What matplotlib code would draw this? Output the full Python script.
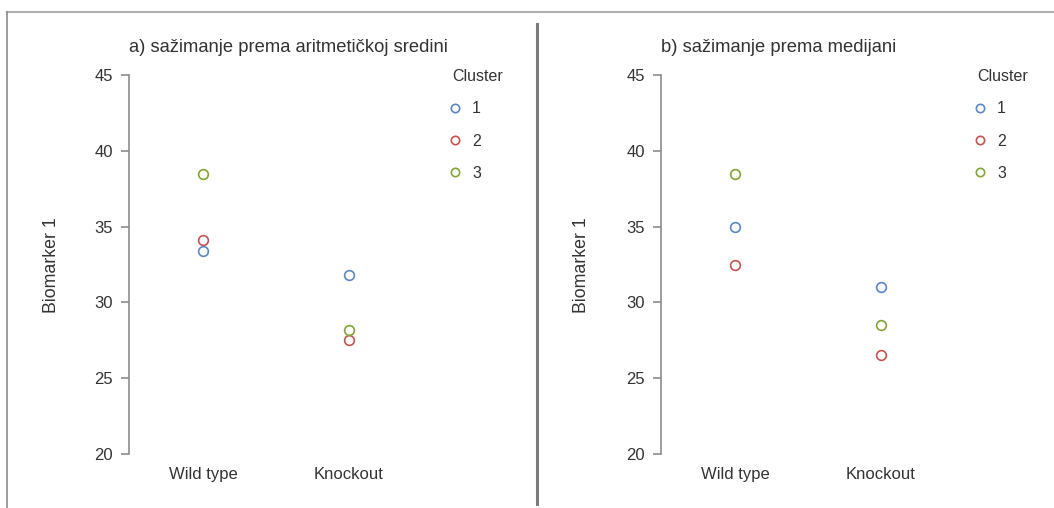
import matplotlib.pyplot as plt
from matplotlib.lines import Line2D

plt.rcParams['font.family'] = ['Liberation Sans', 'DejaVu Sans']

groups = ['Wild type', 'Knockout']
clusters = ['1', '2', '3']
colors = ['#5b87c4', '#c8524f', '#82a536']

# cluster summaries per group (rows: cluster 1..3, cols: Wild type, Knockout)
mean_vals = [[33.4, 31.8],
             [34.1, 27.5],
             [38.5, 28.2]]
median_vals = [[35.0, 31.0],
               [32.5, 26.5],
               [38.5, 28.5]]

titles = ['a) sažimanje prema aritmetičkoj sredini',
          'b) sažimanje prema medijani']
yticks = [20, 25, 30, 35, 40, 45]

W, H = 1054, 508
fig = plt.figure(figsize=(W / 100, H / 100), dpi=100)

txt = '#333333'
spine_col = '#8c8c8c'


def px(x0, y0, w, h):
    return [x0 / W, 1 - (y0 + h) / H, w / W, h / H]


panels = [(129, 203, 452, 51), (661, 735, 977, 581)]
for (ax_x, wt_x, leg_x, lab_x), vals, title in zip(panels, [mean_vals, median_vals], titles):
    ax = fig.add_axes(px(ax_x, 75, 340, 379))
    step = 146
    ax.set_xlim(-(wt_x - ax_x) / step, (ax_x + 340 - wt_x) / step)
    ax.set_ylim(20, 45)
    for vals_c, col, lab in zip(vals, colors, clusters):
        ax.plot(range(len(groups)), vals_c, 'o', ls='none', ms=7, mfc='none',
                mec=col, mew=1.2, label=lab, clip_on=False)
    for s in ['top', 'right', 'bottom']:
        ax.spines[s].set_visible(False)
    ax.spines['left'].set_color(spine_col)
    ax.spines['left'].set_linewidth(1.2)
    ax.set_yticks(yticks)
    ax.set_xticks(range(len(groups)))
    ax.set_xticklabels(groups)
    ax.tick_params(axis='y', length=6, width=1.2, color=spine_col, pad=5.5,
                   labelsize=12, labelcolor=txt)
    ax.tick_params(axis='x', length=0, pad=9.5, labelsize=12, labelcolor=txt)
    fig.text(lab_x / W, 1 - 265 / H, 'Biomarker 1', rotation=90, ha='center',
             va='center', fontsize=12.8, color=txt)
    fig.text(ax_x / W, 1 - 47 / H, title, ha='left', va='center',
             fontsize=13.2, color=txt)

    handles = [Line2D([], [], marker='o', ls='none', ms=6, mfc='none', mec=c, mew=1.2)
               for c in colors]
    leg = ax.legend(handles, clusters, title='Cluster', frameon=False,
                    loc='upper left',
                    bbox_to_anchor=(leg_x / W, 1 - 69 / H),
                    bbox_transform=fig.transFigure,
                    fontsize=11.5, title_fontsize=11.5, alignment='left',
                    handlelength=0.4, handletextpad=0.85, labelspacing=1.08,
                    borderpad=0, borderaxespad=0)
    leg.get_title().set_color(txt)
    for t in leg.get_texts():
        t.set_color(txt)

# panel frame and divider
fig.add_artist(Line2D([7 / W, 1], [1 - 11.5 / H, 1 - 11.5 / H], color='#b0b0b0', lw=1.5))
fig.add_artist(Line2D([7 / W, 7 / W], [0, 1 - 11.5 / H], color='#8a8a8a', lw=1.2))
fig.add_artist(Line2D([537 / W, 537 / W], [1 - 504 / H, 1 - 24 / H], color='#7c7c7c', lw=2.2))

fig.savefig('out.png', dpi=100)
